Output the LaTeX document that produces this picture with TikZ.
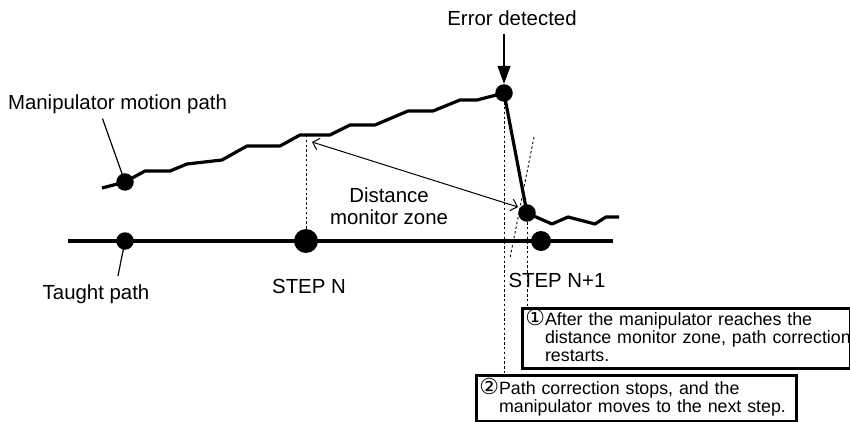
\documentclass[tikz,border=0pt]{standalone}
\usepackage{fontspec}
\setmainfont{Liberation Sans}
\newfontfamily\numfont{DejaVu Sans}
\newcommand{\circnum}[1]{\raisebox{-0.4pt}{\numfont\fontsize{11}{9}\selectfont #1}}
\usetikzlibrary{arrows.meta}

\tikzset{
  dot/.style={circle,fill=black,inner sep=0pt,minimum size=#1},
  dot/.default=8.75pt,
  pathline/.style={line width=1.6pt,line join=round},
  leader/.style={line width=0.6pt},
  guide/.style={line width=0.45pt,dash pattern=on 1.2pt off 1.2pt},
  label/.style={font=\fontsize{10.2}{11}\selectfont,inner sep=0pt},
  note/.style={draw,line width=1.3pt,anchor=north west,align=left,
    font=\fontsize{8.9}{9}\selectfont,inner xsep=1.5pt,inner ysep=0pt},
  zonearrow/.style={line width=0.5pt,
    {Straight Barb[length=3pt,width=6pt]}-{Straight Barb[length=3pt,width=6pt]}}
}

\begin{document}
\begin{tikzpicture}[x=0.5pt,y=-0.5pt]
\useasboundingbox (0,0) rectangle (850,422);

% taught path
\coordinate (tstart) at (68,241);
\coordinate (tend) at (613,241);
\draw[pathline] (tstart) -- (tend);
\node[dot] (t0) at (125,241) {};
\node[dot=12pt] (stepn) at (306,241) {};
\node[dot=10pt] (stepn1) at (541,241) {};

% manipulator motion path
\node[dot] (m0) at (125,182) {};
\node[dot] (err) at (504,93) {};
\node[dot] (back) at (527,213) {};
\draw[pathline] (102,188) -- (m0.center) -- (145,171) -- (170,171) -- (187,164)
  -- (222,160) -- (247,146) -- (280,146) -- (300,135) -- (330,135) -- (350,125)
  -- (375,125) -- (408,111) -- (433,111) -- (460,100) -- (477,100) -- (err.center)
  -- (back.center) -- (552,224) -- (568,217) -- (595,224) -- (606,217) -- (619,217);

% labels
\node[label,anchor=base] (lmotion) at (117.5,110) {Manipulator motion path};
\draw[leader] ([xshift=-7.5pt,yshift=-2pt]lmotion.south) -- (m0.center);
\node[label,anchor=base] (ltaught) at (96,299) {Taught path};
\draw[leader] ([xshift=11pt,yshift=4pt]ltaught.north) -- (t0.center);
\node[label,anchor=base] (lerr) at (512,26) {Error detected};
\draw[line width=0.6pt,-{Triangle[length=9pt,width=6.5pt]}] (err |- lerr.south) ++(0,7) -- (err.north);
\node[label,anchor=base] (lstepn) at (309,293) {STEP N};
\node[label,anchor=base] (lstepn1) at (557,287) {STEP N+1};
\node[label,align=center] (lzone) at (389,206) {Distance\\monitor zone};

% distance monitor zone
\coordinate (za) at (312,142);
\coordinate (zb) at (518,207);
\draw[zonearrow] (za) -- (zb);

% notes
\node[note,text width=161pt,minimum height=30pt] (box1) at (521,307)
  {\begin{tabular}{@{}l@{}l@{}}\circnum{①}\hspace{0.3pt}&After the manipulator reaches the\\
   &distance monitor zone, path correction\\&restarts.\end{tabular}};
\node[note,text width=157pt,minimum height=23pt] (box2) at (475,374)
  {\begin{tabular}{@{}l@{}l@{}}\circnum{②}\hspace{3pt}&Path correction stops, and the\\
   &manipulator moves to the next step.\end{tabular}};

% guide lines
\coordinate (pn) at (306,135);
\draw[guide] (pn) -- (stepn);
\draw[guide] (err) -- (err |- box2.north);
\draw[guide] (back) -- (back |- box1.north);
\coordinate (s1) at (534,137);
\coordinate (s2) at (510,258);
\draw[guide] (s1) -- (s2);
\end{tikzpicture}
\end{document}
